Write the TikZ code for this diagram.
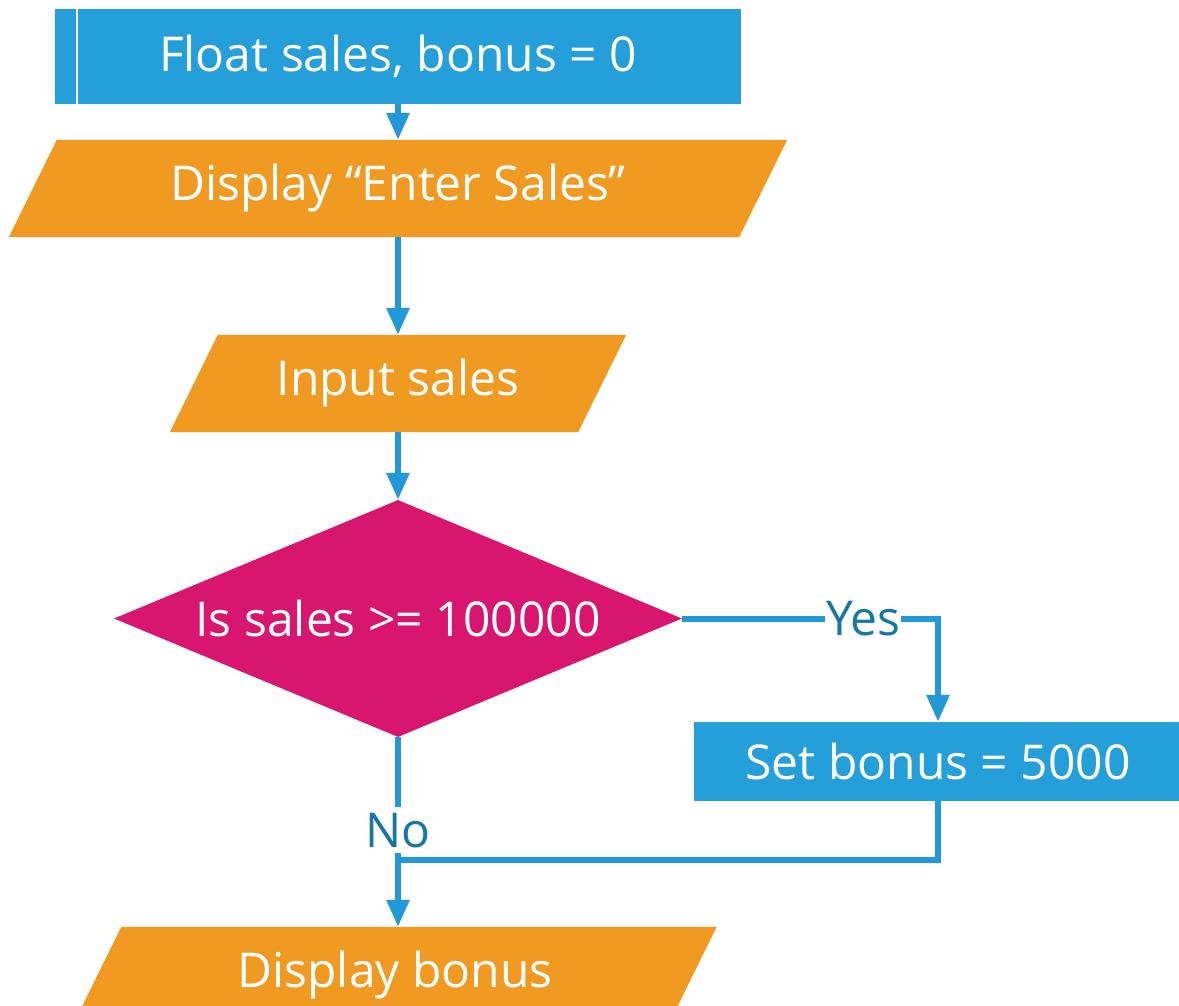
\documentclass[tikz,border=0pt]{standalone}
\usepackage{fontspec}
\setmainfont{Open Sans}
\usetikzlibrary{arrows.meta,shapes.geometric,backgrounds}

\definecolor{boxblue}{HTML}{259FDA}
\definecolor{ioorange}{HTML}{F09A22}
\definecolor{decmag}{HTML}{D8166F}
\definecolor{linkblue}{HTML}{2398D8}
\definecolor{lbltext}{HTML}{1576A8}

\tikzset{
  x=1pt, y=-1pt,
  every node/.style={font=\fontsize{48}{56}\selectfont},
  procbox/.style={rectangle, fill=boxblue, text=white, inner sep=0pt},
  iotext/.style={rectangle, text=white, inner sep=0pt, minimum height=97pt},
  iofill/.style={fill=ioorange},
  decbox/.style={diamond, fill=decmag, text=white, inner sep=0pt, aspect=2.4,
    minimum width=568pt, minimum height=237pt},
  link/.style={draw=linkblue, line width=6pt},
  arrowlink/.style={link, -{Triangle[width=22pt,length=27pt]}},
  lbl/.style={fill=white, text=lbltext, inner sep=1pt},
}

\begin{document}
\begin{tikzpicture}
  \useasboundingbox (0,0) rectangle (1179,1006);

  % declaration box with its side stripe
  \node[procbox, minimum width=686pt, minimum height=95pt] (init) at (398,56.5)
    {Float sales, bonus = 0};
  \draw[white, line width=2pt] ([xshift=22pt]init.north west) -- ([xshift=22pt]init.south west);

  % input/output steps (text carriers; the slanted shapes are filled behind)
  \node[iotext, minimum width=730pt] (prompt) at (398,188.5) {Display “Enter Sales”};
  \node[iotext, minimum width=408pt] (input) at (398,383.5) {Input sales};
  \node[decbox] (test) at (398,618.5) {Is sales >= 100000};
  \node[procbox, minimum width=488pt, minimum height=79pt] (setb) at (938,761.5)
    {Set bonus = 5000};
  \node[iotext, minimum width=595pt] (show) at (395,975.5) {Display bonus};

  \begin{pgfonlayer}{background}
    \foreach \n in {prompt,input,show}{
      \fill[iofill] ([xshift=24pt]\n.north west) -- ([xshift=24pt]\n.north east)
        -- ([xshift=-24pt]\n.south east) -- ([xshift=-24pt]\n.south west) -- cycle;
    }
  \end{pgfonlayer}

  % connectors
  \draw[arrowlink] (init.south) -- (prompt.north);
  \draw[arrowlink] (prompt.south) -- (input.north);
  \draw[arrowlink] (input.south) -- (test.north);
  \draw[arrowlink] (test.east) -| node[lbl, pos=0.354] {Yes} (setb.north);
  \coordinate (merge) at (398,860);
  \draw[arrowlink] (test.south) -- node[lbl, pos=0.49, inner ysep=6pt] {No} (test.south |- show.north);
  \draw[link] (setb.south) |- (merge);
\end{tikzpicture}
\end{document}
